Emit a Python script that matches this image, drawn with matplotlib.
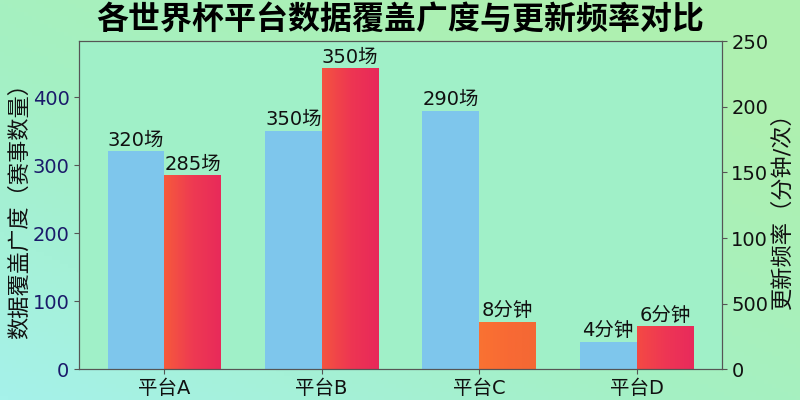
import matplotlib
matplotlib.use("Agg")
import matplotlib.pyplot as plt
import numpy as np
from matplotlib.colors import LinearSegmentedColormap

plt.rcParams['font.family'] = ['DejaVu Sans', 'Noto Sans CJK SC']

platforms = ['平台A', '平台B', '平台C', '平台D']
coverage = [320, 350, 380, 40]
coverage_labels = ['320场', '350场', '290场', '4分钟']
update = [284, 441, 69, 62]
update_labels = ['285场', '350场', '8分钟', '6分钟']
right_ticks = [0, 50, 100, 150, 200, 250]
right_tick_labels = ['0', '500', '100', '150', '200', '250']

fig = plt.figure(figsize=(8, 4), dpi=100)

# background gradient, cyan at bottom-left to green at top-right
bg = fig.add_axes([0, 0, 1, 1], zorder=-10)
gx, gy = np.meshgrid(np.linspace(0, 1, 200), np.linspace(0, 1, 100))
t = np.clip(0.6 * gx + 0.6 * gy, 0, 1)
bg_cmap = LinearSegmentedColormap.from_list('bg', ['#a6f2ea', '#a4f0c4', '#aef0b0'])
bg.imshow(t, cmap=bg_cmap, aspect='auto', origin='lower', extent=[0, 1, 0, 1])
bg.axis('off')

ax = fig.add_axes([0.099, 0.077, 0.803, 0.82])
ax.set_facecolor('#a0f0c8')
x = np.arange(len(platforms))
w = 0.36

ax.bar(x - w / 2, coverage, w, color='#7ec6ec', zorder=2)

red_cmaps = [
    ['#f65a3c', '#ee3a52', '#e82a5a'],
    ['#f45440', '#ee3652', '#e8285a'],
    ['#fa7232', '#f86a34', '#f46834'],
    ['#f44a44', '#ee3654', '#e82a5c'],
]
grad = np.linspace(0, 1, 100).reshape(1, -1)
for i in range(len(platforms)):
    cm = LinearSegmentedColormap.from_list('r%d' % i, red_cmaps[i])
    ax.imshow(grad, cmap=cm, aspect='auto', extent=[x[i], x[i] + w, 0, update[i]], zorder=2)

for i in range(len(platforms)):
    ax.text(x[i] - w / 2, coverage[i] + 3, coverage_labels[i], ha='center', va='bottom', fontsize=14, color='#111111')
    ax.text(x[i] + w / 2, update[i] + 3, update_labels[i], ha='center', va='bottom', fontsize=14, color='#111111')

ax.set_xlim(-0.54, 3.54)
ax.set_ylim(0, 482)
ax.set_xticks(x)
ax.set_xticklabels(platforms, fontsize=14)
ax.set_yticks([0, 100, 200, 300, 400])
ax.tick_params(axis='y', labelsize=14, colors='#555555', labelcolor='#1a1a6a')
ax.tick_params(axis='x', colors='#555555', labelcolor='#111111')
for s in ax.spines.values():
    s.set_color('#555555')
ax.set_ylabel('数据覆盖广度（赛事数量）', fontsize=16, color='#111111', labelpad=2)

ax2 = ax.twinx()
ax2.set_ylim(0, 250)
ax2.set_yticks(right_ticks)
ax2.set_yticklabels(right_tick_labels)
ax2.tick_params(axis='y', labelsize=14, colors='#555555', labelcolor='#111111')
for s in ax2.spines.values():
    s.set_color('#555555')
ax2.set_ylabel('更新频率（分钟/次）', fontsize=16, color='#111111', rotation=90, labelpad=2)

fig.suptitle('各世界杯平台数据覆盖广度与更新频率对比', fontsize=23, fontweight='bold', y=0.985)

fig.savefig('out.png', dpi=100)
